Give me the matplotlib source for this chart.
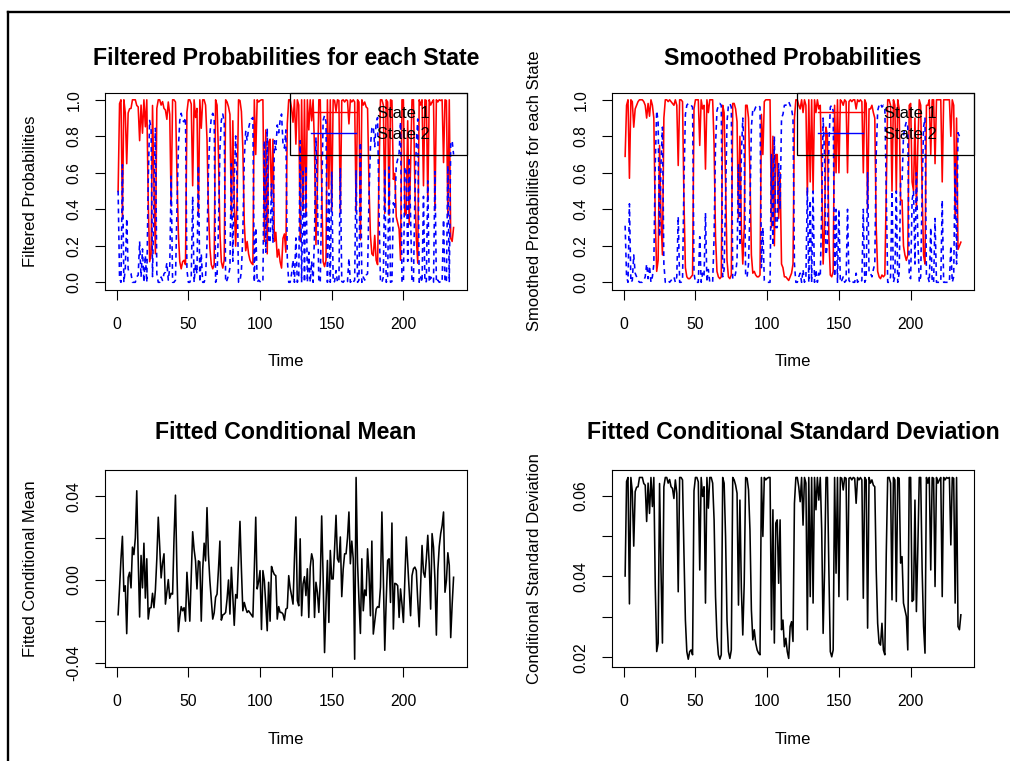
import matplotlib
matplotlib.use("Agg")
import matplotlib.pyplot as plt
from matplotlib.lines import Line2D
from matplotlib.legend_handler import HandlerLine2D

plt.rcParams['font.family'] = ['Liberation Sans', 'DejaVu Sans']

# ---------------- data ----------------
time = list(range(1, 236))

filtered_state1 = [
    0.498, 0.979, 1.000, 0.356, 1.000, 0.928, 0.650, 0.928, 0.951, 0.953,
    1.000, 1.000, 1.000, 0.969, 0.961, 0.776, 0.971, 0.817, 1.000, 0.852,
    1.000, 0.444, 0.113, 0.156, 0.969, 0.529, 0.156, 0.953, 1.000, 1.000,
    0.971, 0.990, 0.953, 0.944, 0.893, 0.988, 0.920, 0.418, 1.000, 1.000,
    0.988, 0.613, 0.274, 0.113, 0.074, 0.113, 0.121, 0.097, 0.932, 1.000,
    1.000, 0.977, 0.529, 1.000, 0.903, 0.953, 0.360, 1.000, 0.844, 1.000,
    1.000, 0.971, 0.784, 0.393, 0.189, 0.097, 0.074, 0.097, 1.000, 0.971,
    0.700, 0.274, 0.113, 0.078, 0.121, 1.000, 0.988, 0.961, 0.920, 0.350,
    0.885, 0.436, 0.198, 0.461, 1.000, 0.996, 0.936, 0.733, 0.325, 0.173,
    0.224, 0.156, 0.121, 0.105, 0.097, 1.000, 0.700, 1.000, 0.988, 0.996,
    1.000, 1.000, 0.224, 0.835, 0.156, 0.767, 0.784, 0.461, 0.784, 0.224,
    0.274, 0.138, 0.181, 0.113, 0.078, 0.241, 0.265, 0.165, 0.868, 1.000,
    1.000, 0.953, 0.877, 1.000, 0.757, 1.000, 0.971, 0.224, 1.000, 0.393,
    1.000, 0.360, 1.000, 0.835, 1.000, 0.885, 1.000, 0.733, 0.206, 0.529,
    1.000, 1.000, 0.529, 0.113, 0.086, 0.121, 1.000, 0.512, 1.000, 0.393,
    1.000, 0.996, 0.936, 1.000, 0.996, 0.377, 0.996, 1.000, 0.988, 1.000,
    0.996, 0.868, 1.000, 0.988, 1.000, 0.988, 0.385, 1.000, 0.988, 0.233,
    1.000, 0.971, 0.988, 0.961, 0.953, 0.529, 0.257, 0.156, 0.146, 0.257,
    0.121, 0.097, 0.613, 1.000, 1.000, 0.971, 0.377, 1.000, 0.988, 0.368,
    1.000, 0.996, 0.564, 0.597, 0.360, 0.325, 0.292, 0.121, 1.000, 1.000,
    0.368, 0.377, 0.885, 0.317, 0.640, 1.000, 1.000, 0.529, 0.241, 0.105,
    1.000, 0.971, 1.000, 0.529, 1.000, 0.996, 0.444, 1.000, 0.971, 0.988,
    1.000, 0.393, 1.000, 0.988, 1.000, 0.996, 1.000, 0.656, 1.000, 0.996,
    0.360, 1.000, 0.241, 0.224, 0.300]

filtered_state2 = [
    0.502, 0.021, 0.000, 0.644, 0.000, 0.072, 0.350, 0.072, 0.049, 0.047,
    0.000, 0.000, 0.000, 0.031, 0.039, 0.224, 0.029, 0.183, 0.000, 0.148,
    0.000, 0.556, 0.887, 0.844, 0.031, 0.471, 0.844, 0.047, 0.000, 0.000,
    0.029, 0.010, 0.047, 0.056, 0.107, 0.012, 0.080, 0.582, 0.000, 0.000,
    0.012, 0.387, 0.726, 0.887, 0.926, 0.887, 0.879, 0.903, 0.068, 0.000,
    0.000, 0.023, 0.471, 0.000, 0.097, 0.047, 0.640, 0.000, 0.156, 0.000,
    0.000, 0.029, 0.216, 0.607, 0.811, 0.903, 0.926, 0.903, 0.000, 0.029,
    0.300, 0.726, 0.887, 0.922, 0.879, 0.000, 0.012, 0.039, 0.080, 0.650,
    0.115, 0.564, 0.802, 0.539, 0.000, 0.004, 0.064, 0.267, 0.675, 0.827,
    0.776, 0.844, 0.879, 0.895, 0.903, 0.000, 0.300, 0.000, 0.012, 0.004,
    0.000, 0.000, 0.776, 0.165, 0.844, 0.233, 0.216, 0.539, 0.216, 0.776,
    0.726, 0.862, 0.819, 0.887, 0.922, 0.759, 0.735, 0.835, 0.132, 0.000,
    0.000, 0.047, 0.123, 0.000, 0.243, 0.000, 0.029, 0.776, 0.000, 0.607,
    0.000, 0.640, 0.000, 0.165, 0.000, 0.115, 0.000, 0.267, 0.794, 0.471,
    0.000, 0.000, 0.471, 0.887, 0.914, 0.879, 0.000, 0.488, 0.000, 0.607,
    0.000, 0.004, 0.064, 0.000, 0.004, 0.623, 0.004, 0.000, 0.012, 0.000,
    0.004, 0.132, 0.000, 0.012, 0.000, 0.012, 0.615, 0.000, 0.012, 0.767,
    0.000, 0.029, 0.012, 0.039, 0.047, 0.471, 0.743, 0.844, 0.854, 0.743,
    0.879, 0.903, 0.387, 0.000, 0.000, 0.029, 0.623, 0.000, 0.012, 0.632,
    0.000, 0.004, 0.436, 0.403, 0.640, 0.675, 0.708, 0.879, 0.000, 0.000,
    0.632, 0.623, 0.115, 0.683, 0.360, 0.000, 0.000, 0.471, 0.759, 0.895,
    0.000, 0.029, 0.000, 0.471, 0.000, 0.004, 0.556, 0.000, 0.029, 0.012,
    0.000, 0.607, 0.000, 0.012, 0.000, 0.004, 0.000, 0.344, 0.000, 0.004,
    0.640, 0.000, 0.759, 0.776, 0.700]

smoothed_state1 = [
    0.69, 0.97, 1.00, 0.57, 1.00, 0.99, 0.85, 0.95, 0.97, 0.99,
    1.00, 1.00, 1.00, 0.99, 0.97, 0.90, 0.98, 0.91, 1.00, 0.97,
    0.90, 0.35, 0.06, 0.12, 0.75, 0.35, 0.15, 0.90, 1.00, 1.00,
    0.99, 1.00, 0.99, 0.98, 0.97, 1.00, 0.97, 0.64, 1.00, 1.00,
    0.99, 0.45, 0.08, 0.03, 0.02, 0.02, 0.03, 0.04, 0.95, 1.00,
    1.00, 1.00, 0.75, 1.00, 0.95, 0.97, 0.62, 1.00, 0.93, 1.00,
    1.00, 1.00, 0.75, 0.25, 0.06, 0.03, 0.02, 0.03, 0.97, 0.93,
    0.55, 0.12, 0.03, 0.02, 0.04, 0.98, 0.98, 0.95, 0.88, 0.35,
    0.80, 0.30, 0.10, 0.30, 0.97, 0.97, 0.90, 0.60, 0.15, 0.05,
    0.06, 0.04, 0.03, 0.03, 0.04, 0.92, 0.70, 0.99, 1.00, 1.00,
    1.00, 1.00, 0.30, 0.80, 0.20, 0.70, 0.70, 0.35, 0.60, 0.10,
    0.08, 0.03, 0.03, 0.02, 0.01, 0.03, 0.05, 0.10, 0.90, 1.00,
    1.00, 0.97, 0.95, 1.00, 0.93, 1.00, 0.97, 0.48, 1.00, 0.55,
    1.00, 0.50, 1.00, 0.93, 1.00, 0.95, 0.97, 0.60, 0.10, 0.30,
    0.85, 0.80, 0.25, 0.04, 0.03, 0.06, 0.97, 0.60, 1.00, 0.60,
    1.00, 0.99, 0.97, 1.00, 0.99, 0.60, 0.99, 1.00, 0.99, 1.00,
    1.00, 0.95, 1.00, 0.99, 1.00, 0.99, 0.60, 1.00, 0.98, 0.40,
    0.95, 0.95, 0.97, 0.93, 0.90, 0.30, 0.06, 0.03, 0.02, 0.04,
    0.03, 0.04, 0.50, 1.00, 1.00, 0.97, 0.50, 1.00, 0.97, 0.50,
    1.00, 0.95, 0.45, 0.45, 0.20, 0.15, 0.12, 0.15, 0.97, 0.98,
    0.55, 0.50, 0.90, 0.40, 0.75, 1.00, 0.97, 0.50, 0.15, 0.10,
    0.97, 0.97, 1.00, 0.70, 1.00, 1.00, 0.65, 1.00, 1.00, 1.00,
    1.00, 0.55, 1.00, 1.00, 1.00, 1.00, 1.00, 0.80, 1.00, 0.97,
    0.35, 0.90, 0.18, 0.20, 0.22]

smoothed_state2 = [
    0.31, 0.03, 0.00, 0.43, 0.00, 0.01, 0.15, 0.05, 0.03, 0.01,
    0.00, 0.00, 0.00, 0.01, 0.03, 0.10, 0.02, 0.09, 0.00, 0.03,
    0.10, 0.65, 0.94, 0.88, 0.25, 0.65, 0.85, 0.10, 0.00, 0.00,
    0.01, 0.00, 0.01, 0.02, 0.03, 0.00, 0.03, 0.36, 0.00, 0.00,
    0.01, 0.55, 0.92, 0.97, 0.98, 0.98, 0.97, 0.96, 0.05, 0.00,
    0.00, 0.00, 0.25, 0.00, 0.05, 0.03, 0.38, 0.00, 0.07, 0.00,
    0.00, 0.00, 0.25, 0.75, 0.94, 0.97, 0.98, 0.97, 0.03, 0.07,
    0.45, 0.88, 0.97, 0.98, 0.96, 0.02, 0.02, 0.05, 0.12, 0.65,
    0.20, 0.70, 0.90, 0.70, 0.03, 0.03, 0.10, 0.40, 0.85, 0.95,
    0.94, 0.96, 0.97, 0.97, 0.96, 0.08, 0.30, 0.01, 0.00, 0.00,
    0.00, 0.00, 0.70, 0.20, 0.80, 0.30, 0.30, 0.65, 0.40, 0.90,
    0.92, 0.97, 0.97, 0.98, 0.99, 0.97, 0.95, 0.90, 0.10, 0.00,
    0.00, 0.03, 0.05, 0.00, 0.07, 0.00, 0.03, 0.52, 0.00, 0.45,
    0.00, 0.50, 0.00, 0.07, 0.00, 0.05, 0.03, 0.40, 0.90, 0.70,
    0.15, 0.20, 0.75, 0.96, 0.97, 0.94, 0.03, 0.40, 0.00, 0.40,
    0.00, 0.01, 0.03, 0.00, 0.01, 0.40, 0.01, 0.00, 0.01, 0.00,
    0.00, 0.05, 0.00, 0.01, 0.00, 0.01, 0.40, 0.00, 0.02, 0.60,
    0.05, 0.05, 0.03, 0.07, 0.10, 0.70, 0.94, 0.97, 0.98, 0.96,
    0.97, 0.96, 0.50, 0.00, 0.00, 0.03, 0.50, 0.00, 0.03, 0.50,
    0.00, 0.05, 0.55, 0.55, 0.80, 0.85, 0.88, 0.85, 0.03, 0.02,
    0.45, 0.50, 0.10, 0.60, 0.25, 0.00, 0.03, 0.50, 0.85, 0.90,
    0.03, 0.03, 0.00, 0.30, 0.00, 0.00, 0.35, 0.00, 0.00, 0.00,
    0.00, 0.45, 0.00, 0.00, 0.00, 0.00, 0.00, 0.20, 0.00, 0.03,
    0.65, 0.10, 0.82, 0.80, 0.78]

cond_mean = [
    -0.0169, -0.0040, 0.0100, 0.0208, -0.0056, -0.0030, -0.0260, 0.0010, 0.0035, -0.0040,
    0.0156, 0.0120, 0.0200, 0.0427, 0.0100, -0.0180, 0.0116, -0.0040, 0.0175, -0.0089,
    0.0100, -0.0190, -0.0137, -0.0135, -0.0066, -0.0135, -0.0050, 0.0100, 0.0300, 0.0160,
    0.0008, 0.0080, 0.0124, -0.0118, -0.0060, 0.0000, -0.0090, -0.0066, -0.0070, 0.0200,
    0.0406, 0.0050, -0.0250, -0.0180, -0.0130, -0.0150, -0.0135, -0.0200, 0.0035, -0.0080,
    -0.0200, 0.0020, 0.0230, 0.0145, 0.0090, -0.0045, 0.0090, 0.0085, -0.0200, 0.0050,
    0.0175, 0.0090, 0.0346, 0.0120, -0.0005, -0.0100, -0.0190, -0.0160, -0.0085, -0.0070,
    0.0050, 0.0185, -0.0195, -0.0170, -0.0166, -0.0158, -0.0093, -0.0002, -0.0166, 0.0059,
    -0.0077, -0.0220, -0.0072, -0.0089, 0.0100, 0.0280, 0.0050, -0.0150, -0.0110, -0.0137,
    -0.0158, -0.0150, -0.0160, -0.0170, -0.0180, 0.0050, 0.0300, -0.0045, -0.0010, 0.0043,
    -0.0240, 0.0043, -0.0005, -0.0120, -0.0246, -0.0013, -0.0200, 0.0063, 0.0040, 0.0024,
    0.0019, -0.0190, -0.0130, -0.0158, -0.0158, -0.0166, -0.0195, -0.0142, -0.0137, 0.0019,
    -0.0040, -0.0077, -0.0118, 0.0100, 0.0301, -0.0101, -0.0126, 0.0196, -0.0174, -0.0021,
    0.0014, -0.0077, 0.0052, -0.0182, 0.0060, 0.0124, 0.0092, -0.0182, -0.0013, -0.0061,
    -0.0158, -0.0005, 0.0306, 0.0011, -0.0351, -0.0118, 0.0092, -0.0206, 0.0140, 0.0003,
    0.0003, 0.0150, 0.0309, 0.0100, 0.0084, 0.0205, -0.0082, 0.0050, 0.0124, 0.0124,
    0.0200, 0.0325, 0.0076, 0.0185, 0.0100, -0.0383, 0.0491, 0.0084, -0.0100, -0.0259,
    0.0100, -0.0150, -0.0050, -0.0077, 0.0148, 0.0030, -0.0174, 0.0185, -0.0262, -0.0200,
    -0.0142, -0.0130, -0.0134, -0.0037, 0.0325, 0.0011, -0.0340, -0.0100, 0.0092, 0.0100,
    -0.0110, 0.0272, -0.0238, -0.0018, -0.0021, -0.0029, -0.0182, -0.0045, -0.0118, -0.0206,
    0.0000, 0.0205, 0.0080, -0.0045, -0.0174, 0.0019, 0.0052, 0.0060, 0.0043, -0.0100,
    -0.0227, -0.0029, 0.0164, 0.0035, 0.0011, 0.0100, 0.0213, 0.0076, -0.0142, 0.0221,
    0.0156, 0.0000, -0.0267, 0.0043, 0.0159, 0.0221, 0.0260, 0.0325, -0.0061, -0.0005,
    0.0129, 0.0068, -0.0279, -0.0120, 0.0011]

cond_sd = [
    0.0401, 0.0635, 0.0645, 0.0332, 0.0645, 0.0610, 0.0475, 0.0610, 0.0621, 0.0622,
    0.0645, 0.0645, 0.0645, 0.0630, 0.0626, 0.0536, 0.0631, 0.0556, 0.0645, 0.0573,
    0.0645, 0.0375, 0.0214, 0.0235, 0.0630, 0.0416, 0.0235, 0.0622, 0.0645, 0.0645,
    0.0631, 0.0640, 0.0622, 0.0618, 0.0593, 0.0639, 0.0606, 0.0362, 0.0645, 0.0645,
    0.0639, 0.0457, 0.0292, 0.0214, 0.0195, 0.0214, 0.0218, 0.0206, 0.0612, 0.0645,
    0.0645, 0.0634, 0.0416, 0.0645, 0.0598, 0.0622, 0.0334, 0.0645, 0.0569, 0.0645,
    0.0645, 0.0631, 0.0540, 0.0350, 0.0251, 0.0206, 0.0195, 0.0206, 0.0645, 0.0631,
    0.0499, 0.0292, 0.0214, 0.0197, 0.0218, 0.0645, 0.0639, 0.0626, 0.0606, 0.0329,
    0.0589, 0.0371, 0.0255, 0.0383, 0.0645, 0.0643, 0.0614, 0.0515, 0.0317, 0.0243,
    0.0268, 0.0235, 0.0218, 0.0210, 0.0206, 0.0645, 0.0499, 0.0645, 0.0639, 0.0643,
    0.0645, 0.0645, 0.0268, 0.0565, 0.0235, 0.0532, 0.0540, 0.0383, 0.0540, 0.0268,
    0.0292, 0.0226, 0.0247, 0.0214, 0.0197, 0.0276, 0.0288, 0.0239, 0.0581, 0.0645,
    0.0645, 0.0622, 0.0585, 0.0645, 0.0527, 0.0645, 0.0631, 0.0268, 0.0645, 0.0350,
    0.0645, 0.0334, 0.0645, 0.0565, 0.0645, 0.0589, 0.0645, 0.0515, 0.0259, 0.0416,
    0.0645, 0.0645, 0.0416, 0.0214, 0.0201, 0.0218, 0.0645, 0.0408, 0.0645, 0.0350,
    0.0645, 0.0643, 0.0614, 0.0645, 0.0643, 0.0342, 0.0643, 0.0645, 0.0639, 0.0645,
    0.0643, 0.0581, 0.0645, 0.0639, 0.0645, 0.0639, 0.0346, 0.0645, 0.0639, 0.0272,
    0.0645, 0.0631, 0.0639, 0.0626, 0.0622, 0.0416, 0.0284, 0.0235, 0.0230, 0.0284,
    0.0218, 0.0206, 0.0457, 0.0645, 0.0645, 0.0631, 0.0342, 0.0645, 0.0639, 0.0338,
    0.0645, 0.0643, 0.0433, 0.0449, 0.0334, 0.0317, 0.0301, 0.0218, 0.0645, 0.0645,
    0.0338, 0.0342, 0.0589, 0.0313, 0.0470, 0.0645, 0.0645, 0.0416, 0.0276, 0.0210,
    0.0645, 0.0631, 0.0645, 0.0416, 0.0645, 0.0643, 0.0375, 0.0645, 0.0631, 0.0639,
    0.0645, 0.0350, 0.0645, 0.0639, 0.0645, 0.0643, 0.0645, 0.0478, 0.0645, 0.0643,
    0.0334, 0.0645, 0.0276, 0.0268, 0.0305]

x_ticks = [0, 50, 100, 150, 200]
prob_ticks = [0.0, 0.2, 0.4, 0.6, 0.8, 1.0]
prob_tick_labels = ["0.0", "0.2", "0.4", "0.6", "0.8", "1.0"]
mean_ticks = [-0.04, -0.02, 0.0, 0.02, 0.04]
mean_tick_labels = ["-0.04", "", "0.00", "", "0.04"]
sd_ticks = [0.02, 0.03, 0.04, 0.05, 0.06]
sd_tick_labels = ["0.02", "", "0.04", "", "0.06"]
legend_labels = ["State 1", "State 2"]

# ---------------- figure ----------------
W, H = 1010, 761
fig = plt.figure(figsize=(W / 100, H / 100), dpi=100)
fig.patch.set_facecolor("white")


def px_axes(left, top, right, bottom):
    return fig.add_axes([left / W, 1 - bottom / H, (right - left) / W, (bottom - top) / H])


ax1 = px_axes(104.7, 92.5, 467.0, 289.6)
ax2 = px_axes(611.7, 92.5, 974.3, 289.6)
ax3 = px_axes(104.7, 470.2, 467.0, 666.5)
ax4 = px_axes(611.7, 470.2, 974.3, 666.5)

LW = 1.15
ax1.plot(time, filtered_state1, color="#FF0000", lw=LW)
ax1.plot(time, filtered_state2, color="#0000FF", lw=LW, ls=(0, (3.0, 2.6)))
ax2.plot(time, smoothed_state1, color="#FF0000", lw=LW)
ax2.plot(time, smoothed_state2, color="#0000FF", lw=LW, ls=(0, (3.0, 2.6)))
ax3.plot(time, cond_mean, color="black", lw=LW)
ax4.plot(time, cond_sd, color="black", lw=LW)


def style(ax, title, ylabel, yticks, yticklabels, title_y, xlab_y, ylab_x):
    ax.set_xmargin(0.04)
    ax.set_ymargin(0.04)
    ax.set_xticks(x_ticks)
    ax.set_xticklabels([str(v) for v in x_ticks])
    ax.set_yticks(yticks)
    ax.set_yticklabels(yticklabels, rotation=90, va="center")
    ax.tick_params(direction="out", length=7.4, width=0.8, labelsize=11.3, color="black")
    ax.tick_params(axis="x", pad=12.6)
    ax.tick_params(axis="y", pad=9.2)
    for s in ax.spines.values():
        s.set_linewidth(0.8)
        s.set_color("black")
    ax.set_title(title, fontsize=16.7, fontweight="bold", y=title_y, va="center", pad=0)
    ax.set_xlabel("Time", fontsize=12)
    ax.xaxis.set_label_coords(0.5, xlab_y)
    ax.xaxis.label.set_va("center")
    ax.set_ylabel(ylabel, fontsize=12)
    ax.yaxis.set_label_coords(ylab_x, 0.5)
    ax.yaxis.label.set_va("center")


style(ax1, "Filtered Probabilities for each State", "Filtered Probabilities",
      prob_ticks, prob_tick_labels, 1.175, -0.367, -0.206)
style(ax2, "Smoothed Probabilities", "Smoothed Probabilities for each State",
      prob_ticks, prob_tick_labels, 1.175, -0.367, -0.214)
style(ax3, "Fitted Conditional Mean", "Fitted Conditional Mean",
      mean_ticks, mean_tick_labels, 1.19, -0.374, -0.206)
style(ax4, "Fitted Conditional Standard Deviation", "Conditional Standard Deviation",
      sd_ticks, sd_tick_labels, 1.19, -0.374, -0.214)

for ax in (ax1, ax2):
    h1 = Line2D([], [], color="#FF0000", lw=1.0)
    h2 = Line2D([], [], color="#0000FF", lw=1.0)
    leg = ax.legend([h1, h2], legend_labels, loc="upper left",
                    bbox_to_anchor=(0.511, 0.683, 0.489, 0.317), mode="expand",
                    borderaxespad=0, fontsize=12, frameon=True, fancybox=False,
                    edgecolor="black", facecolor="none", framealpha=1,
                    borderpad=0.82, labelspacing=0.33, handlelength=3.12,
                    handletextpad=1.3,
                    handler_map={h1: HandlerLine2D(xpad=0.47), h2: HandlerLine2D(xpad=0.47)})
    leg.get_frame().set_linewidth(0.9)

# outer frame (top and left edges visible in the reference)
fx = 8.0 / W
fy = 1 - 12.2 / H
fig.add_artist(Line2D([fx, 1.0], [fy, fy], transform=fig.transFigure, color="black", lw=1.7))
fig.add_artist(Line2D([fx, fx], [0.0, fy], transform=fig.transFigure, color="black", lw=1.7))

fig.savefig("out.png", dpi=100)
